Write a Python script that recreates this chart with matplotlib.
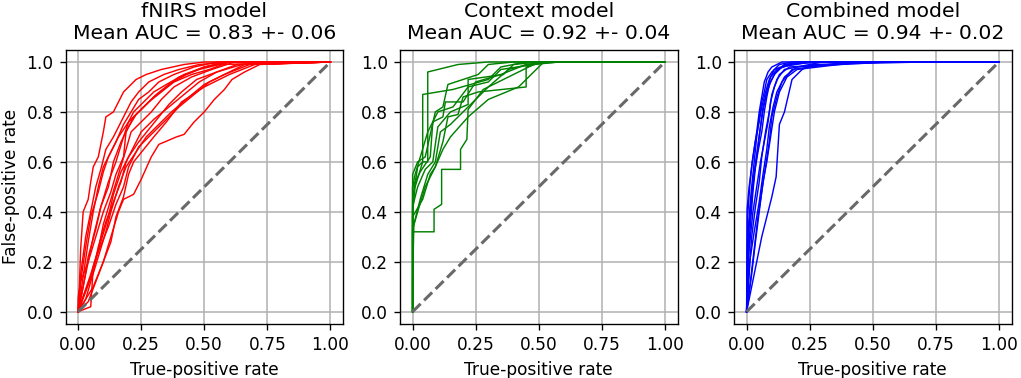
import matplotlib
matplotlib.use("Agg")
import matplotlib.pyplot as plt

# ---------------- data ----------------
titles = ["fNIRS model", "Context model", "Combined model"]
mean_auc = [0.83, 0.92, 0.94]
std_auc = [0.06, 0.04, 0.02]
colors = ["red", "green", "blue"]
x_ticks = [0.0, 0.25, 0.5, 0.75, 1.0]
x_tick_labels = ["0.00", "0.25", "0.50", "0.75", "1.00"]
y_ticks = [0.0, 0.2, 0.4, 0.6, 0.8, 1.0]
y_tick_labels = ["0.0", "0.2", "0.4", "0.6", "0.8", "1.0"]

fnirs_fpr = [
    [0, 0, 0.005, 0.01, 0.02, 0.04, 0.05, 0.06, 0.08, 0.1, 0.11, 0.14, 0.16, 0.18, 0.2, 0.23, 0.27, 0.33, 0.42, 0.5, 1],
    [0, 0.01, 0.03, 0.05, 0.07, 0.09, 0.11, 0.14, 0.17, 0.19, 0.21, 0.24, 0.28, 0.34, 0.4, 0.48, 0.6, 1],
    [0, 0.02, 0.04, 0.06, 0.09, 0.12, 0.15, 0.18, 0.2, 0.22, 0.26, 0.3, 0.35, 0.42, 0.5, 0.58, 1],
    [0, 0.02, 0.05, 0.08, 0.1, 0.13, 0.16, 0.19, 0.21, 0.25, 0.29, 0.33, 0.38, 0.45, 0.53, 0.62, 1],
    [0, 0.05, 0.06, 0.09, 0.12, 0.14, 0.17, 0.2, 0.24, 0.28, 0.32, 0.36, 0.41, 0.47, 0.55, 0.65, 1],
    [0, 0.01, 0.04, 0.07, 0.1, 0.13, 0.15, 0.18, 0.19, 0.22, 0.26, 0.3, 0.35, 0.4, 0.48, 0.56, 1],
    [0, 0.03, 0.05, 0.08, 0.11, 0.13, 0.16, 0.19, 0.23, 0.27, 0.32, 0.37, 0.44, 0.5, 0.58, 0.68, 1],
    [0, 0.03, 0.06, 0.1, 0.13, 0.16, 0.18, 0.22, 0.25, 0.29, 0.32, 0.39, 0.42, 0.46, 0.5, 0.54, 0.58, 0.61, 0.66, 0.72, 1],
    [0, 0.04, 0.07, 0.1, 0.13, 0.15, 0.18, 0.2, 0.22, 0.26, 0.3, 0.35, 0.41, 0.5, 0.6, 0.7, 1],
    [0, 0.02, 0.04, 0.07, 0.09, 0.12, 0.14, 0.17, 0.2, 0.23, 0.27, 0.31, 0.36, 0.43, 0.5, 0.6, 1],
    [0, 0.03, 0.06, 0.08, 0.11, 0.14, 0.17, 0.19, 0.22, 0.25, 0.3, 0.36, 0.42, 0.48, 0.55, 0.63, 1],
    [0, 0.01, 0.03, 0.05, 0.08, 0.1, 0.12, 0.15, 0.18, 0.21, 0.24, 0.28, 0.32, 0.38, 0.46, 0.55, 1],
    [0, 0.02, 0.05, 0.08, 0.12, 0.15, 0.18, 0.2, 0.24, 0.3, 0.34, 0.4, 0.46, 0.52, 0.6, 0.66, 1],
    [0, 0.02, 0.04, 0.06, 0.08, 0.1, 0.13, 0.16, 0.2, 0.24, 0.28, 0.33, 0.38, 0.45, 0.52, 0.6, 1],
]
fnirs_tpr = [
    [0, 0.05, 0.1, 0.25, 0.4, 0.45, 0.52, 0.58, 0.62, 0.72, 0.78, 0.8, 0.84, 0.88, 0.9, 0.93, 0.95, 0.97, 0.99, 1, 1],
    [0, 0.15, 0.3, 0.4, 0.5, 0.57, 0.65, 0.7, 0.76, 0.8, 0.84, 0.88, 0.92, 0.95, 0.97, 0.99, 1, 1],
    [0, 0.1, 0.2, 0.3, 0.42, 0.52, 0.6, 0.7, 0.76, 0.8, 0.84, 0.88, 0.91, 0.95, 0.98, 1, 1],
    [0, 0.06, 0.15, 0.25, 0.35, 0.45, 0.55, 0.65, 0.72, 0.76, 0.8, 0.85, 0.9, 0.94, 0.97, 1, 1],
    [0, 0.02, 0.18, 0.28, 0.38, 0.47, 0.56, 0.62, 0.68, 0.73, 0.78, 0.83, 0.88, 0.93, 0.96, 0.99, 1],
    [0, 0.12, 0.2, 0.3, 0.4, 0.48, 0.55, 0.62, 0.72, 0.78, 0.82, 0.86, 0.9, 0.94, 0.97, 0.99, 1],
    [0, 0.05, 0.12, 0.22, 0.32, 0.4, 0.5, 0.58, 0.64, 0.7, 0.75, 0.8, 0.86, 0.91, 0.95, 0.99, 1],
    [0, 0.05, 0.1, 0.2, 0.3, 0.4, 0.45, 0.47, 0.53, 0.62, 0.67, 0.7, 0.71, 0.76, 0.8, 0.85, 0.89, 0.93, 0.96, 0.99, 1],
    [0, 0.04, 0.12, 0.2, 0.28, 0.38, 0.46, 0.55, 0.6, 0.65, 0.7, 0.76, 0.84, 0.9, 0.95, 0.99, 1],
    [0, 0.1, 0.22, 0.33, 0.42, 0.5, 0.6, 0.68, 0.74, 0.79, 0.83, 0.87, 0.91, 0.95, 0.98, 1, 1],
    [0, 0.08, 0.16, 0.26, 0.36, 0.44, 0.52, 0.6, 0.66, 0.72, 0.77, 0.82, 0.87, 0.92, 0.96, 0.99, 1],
    [0, 0.12, 0.26, 0.38, 0.48, 0.56, 0.62, 0.68, 0.75, 0.8, 0.85, 0.88, 0.92, 0.95, 0.98, 1, 1],
    [0, 0.06, 0.14, 0.24, 0.34, 0.43, 0.5, 0.58, 0.66, 0.72, 0.76, 0.82, 0.87, 0.92, 0.96, 0.99, 1],
    [0, 0.14, 0.28, 0.4, 0.5, 0.58, 0.64, 0.7, 0.76, 0.8, 0.84, 0.88, 0.92, 0.95, 0.97, 1, 1],
]

context_fpr = [
    [0, 0, 0.085, 0.085, 0.115, 0.115, 0.19, 0.19, 0.215, 0.22, 0.28, 0.5, 1],
    [0, 0, 0.005, 0.03, 0.06, 0.09, 0.11, 0.15, 0.2, 0.25, 0.3, 0.38, 0.5, 1],
    [0, 0, 0.01, 0.04, 0.06, 0.06, 0.18, 0.3, 1],
    [0, 0, 0.02, 0.04, 0.04, 0.16, 0.3, 0.35, 0.45, 1],
    [0, 0, 0.03, 0.07, 0.08, 0.12, 0.13, 0.2, 0.25, 0.35, 0.45, 0.58, 1],
    [0, 0, 0.04, 0.07, 0.09, 0.12, 0.14, 0.18, 0.2, 0.26, 0.45, 0.45, 0.52, 1],
    [0, 0, 0.02, 0.05, 0.08, 0.1, 0.15, 0.22, 0.22, 0.36, 0.4, 0.5, 1],
    [0, 0, 0.02, 0.05, 0.09, 0.12, 0.15, 0.22, 0.3, 0.42, 0.52, 1],
    [0, 0, 0.02, 0.05, 0.09, 0.12, 0.14, 0.26, 0.3, 0.4, 1],
    [0, 0, 0.01, 0.06, 0.1, 0.16, 0.22, 0.3, 0.35, 0.48, 0.58, 1],
]
context_tpr = [
    [0, 0.32, 0.32, 0.41, 0.43, 0.57, 0.57, 0.65, 0.69, 0.81, 0.89, 1, 1],
    [0, 0.13, 0.35, 0.45, 0.55, 0.6, 0.72, 0.75, 0.8, 0.85, 0.9, 0.97, 1, 1],
    [0, 0.4, 0.5, 0.6, 0.6, 0.96, 0.99, 1, 1],
    [0, 0.45, 0.58, 0.6, 0.87, 0.89, 0.93, 0.98, 1, 1],
    [0, 0.5, 0.56, 0.62, 0.76, 0.78, 0.84, 0.84, 0.92, 0.95, 0.99, 1, 1],
    [0, 0.38, 0.45, 0.55, 0.58, 0.68, 0.78, 0.79, 0.86, 0.88, 0.9, 0.98, 1, 1],
    [0, 0.42, 0.5, 0.57, 0.6, 0.74, 0.8, 0.83, 0.93, 0.95, 0.99, 1, 1],
    [0, 0.33, 0.4, 0.5, 0.58, 0.65, 0.7, 0.78, 0.85, 0.9, 1, 1],
    [0, 0.55, 0.6, 0.62, 0.8, 0.82, 0.91, 0.95, 0.99, 1, 1],
    [0, 0.5, 0.55, 0.72, 0.8, 0.82, 0.9, 0.92, 0.97, 0.99, 1, 1],
]

combined_fpr = [
    [0, 0.002, 0.01, 0.02, 0.03, 0.04, 0.05, 0.06, 0.07, 0.085, 0.1, 0.14, 1],
    [0, 0.005, 0.015, 0.025, 0.035, 0.045, 0.055, 0.065, 0.08, 0.095, 0.12, 0.2, 1],
    [0, 0.01, 0.02, 0.035, 0.05, 0.06, 0.075, 0.09, 0.1, 0.12, 0.15, 0.3, 1],
    [0, 0.02, 0.04, 0.06, 0.08, 0.1, 0.117, 0.13, 0.15, 0.18, 0.22, 0.26, 0.7, 1],
    [0, 0.01, 0.025, 0.04, 0.055, 0.07, 0.085, 0.095, 0.11, 0.13, 0.17, 0.5, 1],
    [0, 0.005, 0.02, 0.03, 0.045, 0.06, 0.07, 0.08, 0.09, 0.11, 0.14, 0.25, 1],
    [0, 0.015, 0.03, 0.045, 0.06, 0.075, 0.09, 0.1, 0.12, 0.14, 0.18, 0.4, 1],
    [0, 0.008, 0.018, 0.03, 0.04, 0.05, 0.06, 0.07, 0.08, 0.1, 0.13, 0.18, 1],
    [0, 0.012, 0.03, 0.05, 0.065, 0.08, 0.09, 0.105, 0.12, 0.15, 0.2, 0.55, 1],
    [0, 0.004, 0.012, 0.022, 0.034, 0.048, 0.06, 0.075, 0.09, 0.11, 0.16, 0.3, 1],
    [0, 0.02, 0.035, 0.05, 0.065, 0.08, 0.095, 0.11, 0.13, 0.16, 0.2, 0.45, 1],
    [0, 0.006, 0.015, 0.028, 0.04, 0.052, 0.064, 0.078, 0.095, 0.115, 0.15, 0.22, 1],
]
combined_tpr = [
    [0, 0.41, 0.5, 0.58, 0.65, 0.72, 0.8, 0.86, 0.92, 0.96, 0.98, 1, 1],
    [0, 0.2, 0.35, 0.48, 0.58, 0.66, 0.74, 0.82, 0.88, 0.94, 0.97, 1, 1],
    [0, 0.15, 0.3, 0.42, 0.52, 0.62, 0.72, 0.8, 0.87, 0.93, 0.97, 1, 1],
    [0, 0.1, 0.2, 0.3, 0.38, 0.46, 0.54, 0.75, 0.8, 0.93, 0.97, 0.99, 1, 1],
    [0, 0.25, 0.4, 0.5, 0.6, 0.68, 0.76, 0.84, 0.9, 0.95, 0.98, 1, 1],
    [0, 0.3, 0.45, 0.55, 0.64, 0.72, 0.8, 0.86, 0.91, 0.95, 0.98, 1, 1],
    [0, 0.12, 0.25, 0.38, 0.48, 0.58, 0.68, 0.78, 0.86, 0.92, 0.97, 1, 1],
    [0, 0.35, 0.48, 0.6, 0.7, 0.78, 0.84, 0.88, 0.93, 0.96, 0.99, 1, 1],
    [0, 0.2, 0.32, 0.44, 0.55, 0.65, 0.74, 0.82, 0.88, 0.94, 0.98, 1, 1],
    [0, 0.38, 0.5, 0.6, 0.68, 0.75, 0.82, 0.88, 0.93, 0.97, 0.99, 1, 1],
    [0, 0.15, 0.28, 0.4, 0.52, 0.6, 0.7, 0.8, 0.88, 0.94, 0.97, 1, 1],
    [0, 0.28, 0.42, 0.54, 0.63, 0.72, 0.8, 0.87, 0.92, 0.96, 0.99, 1, 1],
]

panels = [
    (fnirs_fpr, fnirs_tpr),
    (context_fpr, context_tpr),
    (combined_fpr, combined_tpr),
]

# ---------------- figure ----------------
dpi = 122
fig = plt.figure(figsize=(1021 / dpi, 378 / dpi), dpi=dpi)
lefts = [65.5 / 1021, 400 / 1021, 734 / 1021]
bottom = 1 - 324.2 / 378
width = 277.5 / 1021
height = 274.7 / 378

for i, (fpr_list, tpr_list) in enumerate(panels):
    ax = fig.add_axes([lefts[i], bottom, width, height])
    for fpr, tpr in zip(fpr_list, tpr_list):
        ax.plot(fpr, tpr, color=colors[i], lw=0.85)
    ax.plot([0, 1], [0, 1], linestyle="--", color="dimgray", lw=1.8, zorder=3)
    ax.set_xlim(-0.05, 1.05)
    ax.set_ylim(-0.05, 1.05)
    ax.set_xticks(x_ticks)
    ax.set_xticklabels(x_tick_labels)
    ax.set_yticks(y_ticks)
    ax.set_yticklabels(y_tick_labels)
    ax.grid(True, color="#b0b0b0", lw=0.9)
    ax.set_axisbelow(True)
    ax.set_xlabel("True-positive rate")
    if i == 0:
        ax.set_ylabel("False-positive rate")
    ax.set_title(f"{titles[i]}\nMean AUC = {mean_auc[i]:.2f} +- {std_auc[i]:.2f}", fontsize=12)

fig.savefig("out.png", dpi=dpi)
